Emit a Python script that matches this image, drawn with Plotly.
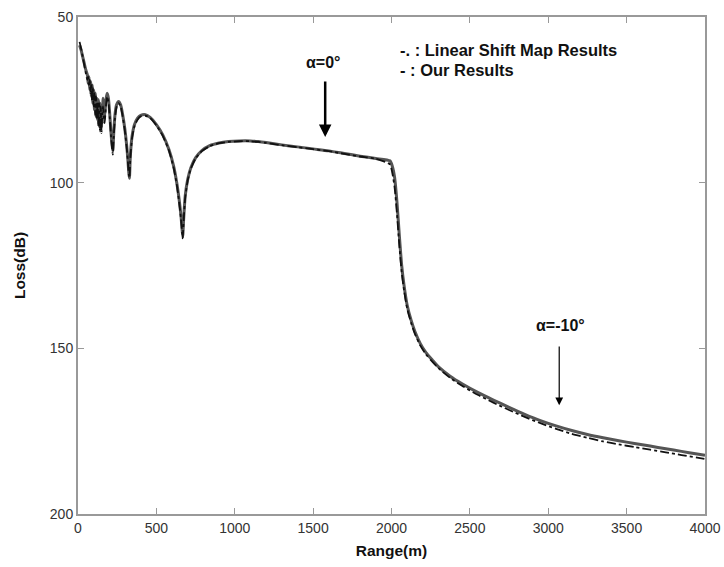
import plotly.graph_objects as go

range_m = [10, 20, 30, 40, 50, 60, 65, 70, 75, 80, 85, 90, 95, 100, 105, 110, 115, 120, 125, 130,
           135, 140, 145, 150, 155, 160, 165, 170, 178, 186, 194, 202, 210, 216, 222, 228, 236, 246,
           259, 272, 285, 298, 310, 318, 324, 328, 334, 345, 360, 380, 400, 430, 460, 500, 540, 580,
           610, 630, 645, 657, 664, 668, 674, 684, 700, 720, 750, 790, 840, 900, 960, 1030, 1100,
           1150, 1200, 1300, 1400, 1500, 1600, 1700, 1800, 1900, 1990, 2005, 2020, 2035, 2050, 2065,
           2080, 2100, 2125, 2150, 2183, 2220, 2260, 2300, 2374, 2450, 2550, 2650, 2750, 2850, 2950,
           3050, 3150, 3250, 3350, 3450, 3550, 3650, 3750, 3850, 3950, 4000]

our_results = [58.5, 60, 62, 64, 66, 67.5, 70, 68, 72, 69.5, 74, 70.5, 76, 72, 78, 73, 80, 74.5, 81, 75,
               83, 76, 84, 77, 82, 74.5, 78, 80, 75, 73, 74.5, 79, 84.5, 88, 90.5, 85, 79.5, 76.5,
               75.5, 76.5, 79.5, 83.5, 88.5, 93, 97, 98.7, 92, 86, 82.5, 80.5, 79.7, 79.5, 80.3, 82.5, 85.5, 90,
               95, 100, 105, 110, 114, 116.3, 111, 104, 99, 95.5, 92.5, 90.3, 88.8, 88, 87.6, 87.4, 87.4,
               87.6, 87.9, 88.6, 89.2, 89.8, 90.4, 91.2, 92, 92.7, 93.4, 95, 98.5, 106, 116, 125,
               131, 137, 141.5, 145, 148.5, 151.3, 153.5, 155.6, 158.4, 160.7, 163.3, 165.6, 167.8, 169.9, 171.8,
               173.4, 174.8, 176.0, 177.0, 177.9, 178.7, 179.5, 180.3, 181.1, 181.9, 182.3]

linear_shift_map = [57.5, 59.5, 62, 64.5, 67, 69, 68, 71, 69, 73, 70, 75.5, 71.5, 77, 73, 79.5, 74, 81, 75.5, 83,
                    76, 84.5, 77, 85, 79, 77, 80.5, 82, 77, 74, 75.5, 80, 85.5, 89, 91.5, 86, 80.5, 77.2,
                    76, 77, 80, 84, 89, 93.5, 97.5, 98.5, 92.5, 86.5, 83, 81, 80, 79.8, 80.5, 82.7, 85.8, 90.3,
                    95.5, 100.5, 105.8, 111, 115, 116.8, 111.5, 104.5, 99.3, 95.8, 92.7, 90.5, 89, 88.1, 87.7, 87.5, 87.5,
                    87.7, 88, 88.7, 89.3, 89.9, 90.5, 91.3, 92.1, 92.8, 94.5, 97, 101.5, 109.5, 119, 127,
                    132.5, 138, 142.3, 145.7, 149.1, 151.8, 154, 156, 158.9, 161.3, 164.0, 166.4, 168.6, 170.7, 172.6,
                    174.3, 175.8, 177.0, 178.1, 179.0, 179.8, 180.6, 181.4, 182.2, 183, 183.4]

x_ticks = [0, 500, 1000, 1500, 2000, 2500, 3000, 3500, 4000]
y_ticks = [50, 100, 150, 200]

FONT = "Liberation Sans, Arial, sans-serif"

fig = go.Figure()
fig.add_trace(go.Scatter(x=range_m, y=our_results, mode="lines", name="Our Results",
                         line=dict(color="#555555", width=3, shape="spline", smoothing=0.6)))
fig.add_trace(go.Scatter(x=range_m, y=linear_shift_map, mode="lines", name="Linear Shift Map Results",
                         line=dict(color="#111111", width=1.8, dash="dashdot", shape="spline", smoothing=0.6)))

axis_common = dict(showline=True, linecolor="#999999", linewidth=2, mirror="ticks",
                   ticks="inside", ticklen=6, tickcolor="#999999", tickwidth=1,
                   showgrid=False, zeroline=False, automargin=False,
                   tickfont=dict(family=FONT, size=14, color="#333333"))

fig.update_xaxes(range=[0, 4000], tickvals=x_ticks, ticktext=[str(v) for v in x_ticks],
                 title=dict(text="<b>Range(m)</b>", font=dict(family=FONT, size=15.5, color="#111111"), standoff=10),
                 **axis_common)
fig.update_yaxes(range=[200, 50], tickvals=y_ticks, ticktext=[str(v) for v in y_ticks],
                 title=dict(text="<b>Loss(dB)</b>", font=dict(family=FONT, size=15.5, color="#111111"), standoff=20),
                 **axis_common)

annots = [
    dict(x=1577, y=86.2, ax=1577, ay=69, xref="x", yref="y", axref="x", ayref="y",
         showarrow=True, arrowhead=2, arrowsize=1, arrowwidth=2.5, arrowcolor="#000000", text=""),
    dict(x=1564, y=63.8, xref="x", yref="y", showarrow=False, text="<b>α=0°</b>",
         font=dict(family=FONT, size=16, color="#111111")),
    dict(x=3070, y=167.2, ax=3070, ay=149, xref="x", yref="y", axref="x", ayref="y",
         showarrow=True, arrowhead=2, arrowsize=1.3, arrowwidth=1.2, arrowcolor="#000000", text=""),
    dict(x=3076, y=143, xref="x", yref="y", showarrow=False, text="<b>α=-10°</b>",
         font=dict(family=FONT, size=16, color="#111111")),
    dict(x=2044, y=59.9, xref="x", yref="y", xanchor="left", showarrow=False,
         text="<b>-. : Linear Shift Map Results</b>", font=dict(family=FONT, size=16.5, color="#111111")),
    dict(x=2044, y=65.9, xref="x", yref="y", xanchor="left", showarrow=False,
         text="<b>- : Our Results</b>", font=dict(family=FONT, size=16.5, color="#111111")),
]

fig.update_layout(width=724, height=567, margin=dict(l=78, r=19, t=17, b=53, autoexpand=False),
                  paper_bgcolor="white", plot_bgcolor="white", showlegend=False,
                  annotations=annots)

fig.write_html("out.html")
